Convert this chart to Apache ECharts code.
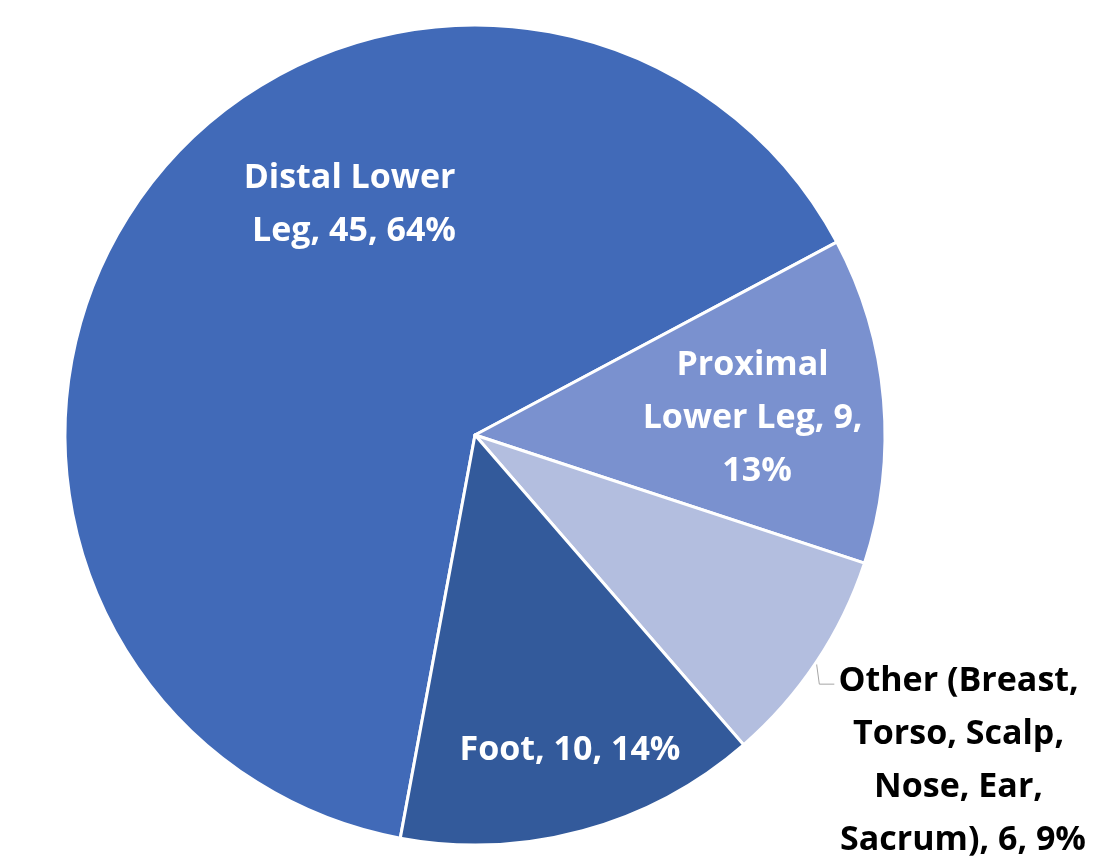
<!DOCTYPE html>
<html>
<head>
<meta charset="utf-8">
<script src="https://cdn.jsdelivr.net/npm/echarts@6/dist/echarts.min.js"></script>
<style>
  html, body { margin: 0; padding: 0; background: #fff; }
  #chart { width: 1111px; height: 860px; }
</style>
</head>
<body>
<div id="chart"></div>
<script>
// data
var categories = ['Distal Lower Leg', 'Proximal Lower Leg', 'Other (Breast, Torso, Scalp, Nose, Ear, Sacrum)', 'Foot'];
var counts = [45, 9, 6, 10];
var colors = ['#416AB8', '#7A91CF', '#B3BEDF', '#335A9B'];

// label wrap widths and placement (px)
var labelWidths = [240, 245, 270, 320];
var labelPos = [[354, 205], [757, 418], [963, 761], [570, 750]];

var chart = echarts.init(document.getElementById('chart'));

var pieData = [];
for (var i = 0; i < categories.length; i++) {
    pieData.push({
        name: categories[i],
        value: counts[i],
        itemStyle: { color: colors[i] },
        label: {
            position: i === 2 ? 'outside' : 'inside',
            color: i === 2 ? '#000' : '#fff',
            width: labelWidths[i]
        },
        labelLine: { show: i === 2 }
    });
}

var option = {
    animation: false,
    series: [
        {
            type: 'pie',
            center: [475, 435],
            radius: 410,
            startAngle: 259.5,
            clockwise: true,
            percentPrecision: 0,
            itemStyle: {
                borderColor: '#fff',
                borderWidth: 3
            },
            label: {
                formatter: '{b}, {c}, {d}%',
                fontFamily: 'Open Sans',
                fontWeight: 'bold',
                fontSize: 34,
                lineHeight: 53,
                overflow: 'break',
                align: 'center'
            },
            labelLine: {
                length: 8,
                length2: 12,
                lineStyle: { color: '#A6A6A6', width: 1 }
            },
            labelLayout: function (params) {
                var p = labelPos[params.dataIndex];
                var res = { x: p[0], y: p[1], align: 'center', verticalAlign: 'middle' };
                if (params.labelLinePoints) {
                    var a = params.labelLinePoints[0];
                    res.labelLinePoints = [
                        [a[0], a[1]],
                        [a[0] + 3, a[1] + 22],
                        [a[0] + 18, a[1] + 22]
                    ];
                }
                return res;
            },
            data: pieData
        }
    ]
};

chart.setOption(option);
</script>
</body>
</html>
